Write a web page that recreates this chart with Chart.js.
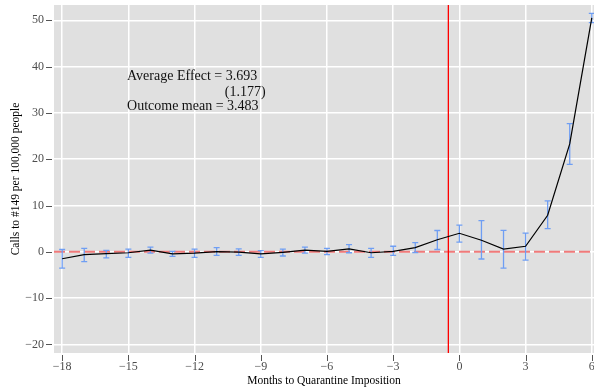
<!DOCTYPE html>
<html>
<head>
<meta charset="utf-8">
<script src="https://cdn.jsdelivr.net/npm/chart.js@4/dist/chart.umd.min.js"></script>
<style>
  html, body { margin: 0; padding: 0; background: #ffffff; }
  #wrap { width: 594px; height: 390px; }
</style>
</head>
<body>
<div id="wrap"><canvas id="c" width="594" height="390"></canvas></div>
<script>
// ---- Data ----
const months    = [-18,-17,-16,-15,-14,-13,-12,-11,-10,-9,-8,-7,-6,-5,-4,-3,-2,-1,0,1,2,3,4,5,6];
const estimates = [-1.5,-0.6,-0.4,-0.2,0.35,-0.45,-0.3,0.05,-0.05,-0.45,-0.1,0.35,0.1,0.65,-0.2,0.1,0.9,2.6,4.0,2.5,0.6,1.2,7.9,23.3,50.5];
const lowerCI   = [-3.5,-2.1,-1.3,-1.2,-0.3,-1.0,-1.2,-0.75,-0.75,-1.2,-0.9,-0.3,-0.6,-0.2,-1.2,-0.75,-0.15,0.5,2.1,-1.55,-3.5,-1.8,5.0,18.9,49.5];
const upperCI   = [0.5,0.75,0.3,0.6,1.0,0.1,0.6,0.9,0.65,0.25,0.6,1.0,0.75,1.55,0.75,1.2,2.0,4.6,5.75,6.75,4.65,4.05,11.0,27.7,51.5];
const xTicks    = [-18,-15,-12,-9,-6,-3,0,3,6];
const yTicks    = [-20,-10,0,10,20,30,40,50];
const referenceY = 0;      // dashed reference line
const treatmentX = -0.5;   // quarantine imposition line
const annotationLines = ["Average Effect = 3.693", "(1.177)", "Outcome mean = 3.483"];
const xTitle = "Months to Quarantine Imposition";
const yTitle = "Calls to #149 per 100,000 people";

const SERIF = "'Liberation Serif', 'Times New Roman', serif";
const minus = v => (v < 0 ? '\u2212' + Math.abs(v) : String(v));

const panelPlugin = {
  id: 'panel',
  beforeDraw(chart) {
    const {ctx, chartArea: a} = chart;
    ctx.save();
    ctx.fillStyle = '#e0e0e0';
    ctx.fillRect(a.left, a.top, a.right - a.left, a.bottom - a.top);
    ctx.restore();
  },
  beforeDatasetsDraw(chart) {
    const {ctx, chartArea: a, scales: {x, y}} = chart;
    ctx.save();
    ctx.beginPath();
    ctx.rect(a.left, a.top, a.right - a.left, a.bottom - a.top);
    ctx.clip();
    // dashed zero line
    const y0 = y.getPixelForValue(referenceY);
    ctx.strokeStyle = '#f07a7a';
    ctx.lineWidth = 2;
    ctx.setLineDash([11, 4]);
    ctx.beginPath();
    ctx.moveTo(a.left, y0);
    ctx.lineTo(a.right, y0);
    ctx.stroke();
    ctx.setLineDash([]);
    // vertical treatment line
    const xv = x.getPixelForValue(treatmentX);
    ctx.strokeStyle = '#ff0000';
    ctx.lineWidth = 1.3;
    ctx.beginPath();
    ctx.moveTo(xv, a.top);
    ctx.lineTo(xv, a.bottom);
    ctx.stroke();
    // error bars
    ctx.strokeStyle = '#6f9ef3';
    ctx.lineWidth = 1.3;
    months.forEach((m, i) => {
      const px = x.getPixelForValue(m);
      const lo = y.getPixelForValue(lowerCI[i]);
      const hi = y.getPixelForValue(upperCI[i]);
      ctx.beginPath();
      ctx.moveTo(px, lo); ctx.lineTo(px, hi);
      ctx.moveTo(px - 3, lo); ctx.lineTo(px + 3, lo);
      ctx.moveTo(px - 3, hi); ctx.lineTo(px + 3, hi);
      ctx.stroke();
    });
    ctx.restore();
  },
  afterDraw(chart) {
    const {ctx, chartArea: a, scales: {x, y}} = chart;
    ctx.save();
    // tick marks (outside the panel, with a small gap)
    ctx.strokeStyle = '#555555';
    ctx.lineWidth = 1;
    xTicks.forEach(v => {
      const px = Math.round(x.getPixelForValue(v)) + 0.5;
      ctx.beginPath(); ctx.moveTo(px, a.bottom + 2); ctx.lineTo(px, a.bottom + 8); ctx.stroke();
    });
    yTicks.forEach(v => {
      const py = Math.round(y.getPixelForValue(v)) + 0.5;
      ctx.beginPath(); ctx.moveTo(a.left - 8, py); ctx.lineTo(a.left - 2, py); ctx.stroke();
    });
    // annotation text
    ctx.fillStyle = '#111111';
    ctx.font = '14px ' + SERIF;
    ctx.textBaseline = 'alphabetic';
    const ax = x.getPixelForValue(-15.06);
    const ay = y.getPixelForValue(37.1);
    ctx.textAlign = 'left';
    ctx.fillText(annotationLines[0], ax, ay);
    ctx.textAlign = 'right';
    ctx.fillText(annotationLines[1], x.getPixelForValue(-8.78), ay + 15.5);
    ctx.textAlign = 'left';
    ctx.fillText(annotationLines[2], ax, ay + 29.5);
    ctx.restore();
  }
};

new Chart(document.getElementById('c'), {
  type: 'line',
  data: {
    datasets: [{
      data: months.map((m, i) => ({x: m, y: estimates[i]})),
      borderColor: '#000000',
      borderWidth: 1.2,
      pointRadius: 0,
      tension: 0,
      fill: false
    }]
  },
  options: {
    responsive: false,
    animation: false,
    devicePixelRatio: 1,
    layout: { padding: { top: 5, right: 0, left: 0, bottom: 0 } },
    plugins: { legend: { display: false }, tooltip: { enabled: false } },
    scales: {
      x: {
        type: 'linear',
        min: -18.37,
        max: 6.1,
        afterBuildTicks(s) { s.ticks = xTicks.map(v => ({value: v})); },
        afterFit(s) { s.height = 37; s.paddingLeft = 0; s.paddingRight = 0; },
        grid: { color: '#ffffff', lineWidth: 1.5, drawTicks: false },
        border: { display: false },
        ticks: {
          padding: 7,
          color: '#4d4d4d',
          font: { family: SERIF, size: 12 },
          maxRotation: 0,
          autoSkip: false,
          callback: v => minus(v)
        },
        title: {
          display: true,
          text: xTitle,
          color: '#000000',
          font: { family: SERIF, size: 11.5 },
          padding: { top: 0, bottom: 2 }
        }
      },
      y: {
        type: 'linear',
        min: -21.85,
        max: 53.3,
        afterBuildTicks(s) { s.ticks = yTicks.map(v => ({value: v})); },
        afterFit(s) { s.width = 54; s.paddingTop = 0; s.paddingBottom = 0; },
        grid: { color: '#ffffff', lineWidth: 1.5, drawTicks: false },
        border: { display: false },
        ticks: {
          padding: 10,
          color: '#4d4d4d',
          font: { family: SERIF, size: 12 },
          autoSkip: false,
          callback: v => minus(v)
        },
        title: {
          display: true,
          text: yTitle,
          color: '#000000',
          font: { family: SERIF, size: 11.5 },
          padding: { top: 9, bottom: 0 }
        }
      }
    }
  },
  plugins: [panelPlugin]
});
</script>
</body>
</html>
